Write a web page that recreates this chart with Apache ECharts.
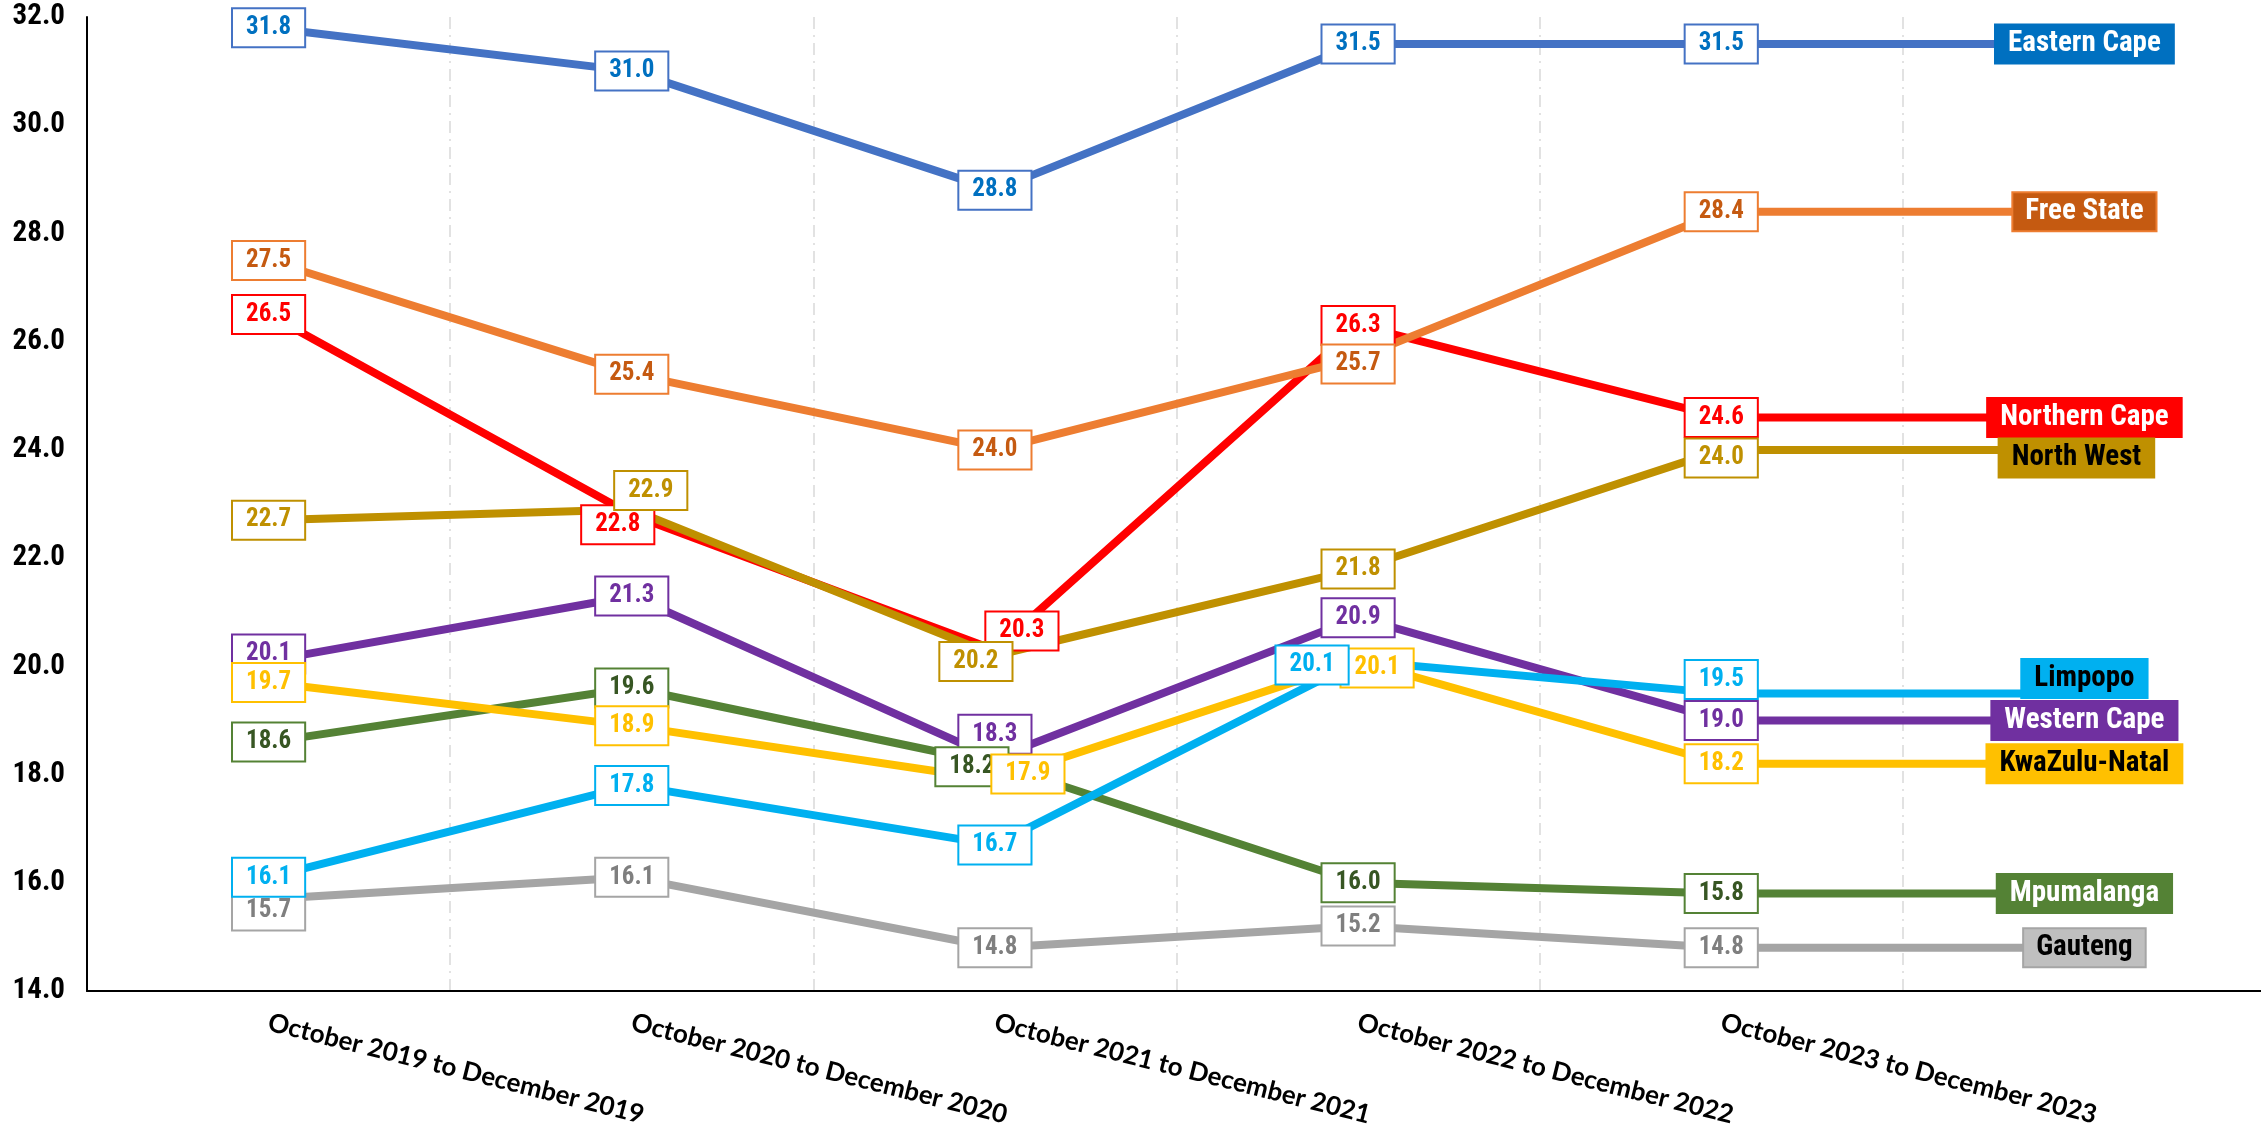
<!DOCTYPE html>
<html>
<head>
<meta charset="utf-8">
<script src="https://cdn.jsdelivr.net/npm/echarts@6/dist/echarts.min.js"></script>
<style>
html,body{margin:0;padding:0;background:#fff;}
#chart{width:2261px;height:1125px;}
</style>
</head>
<body>
<div id="chart"></div>
<script>
// ---------- DATA ----------
const periods = [
  'October 2019 to December 2019',
  'October 2020 to December 2020',
  'October 2021 to December 2021',
  'October 2022 to December 2022',
  'October 2023 to December 2023'
];
const westernCape  = [20.1, 21.3, 18.3, 20.9, 19.0];
const easternCape  = [31.8, 31.0, 28.8, 31.5, 31.5];
const northernCape = [26.5, 22.8, 20.3, 26.3, 24.6];
const freeState    = [27.5, 25.4, 24.0, 25.7, 28.4];
const mpumalanga   = [18.6, 19.6, 18.2, 16.0, 15.8];
const kwaZuluNatal = [19.7, 18.9, 17.9, 20.1, 18.2];
const northWest    = [22.7, 22.9, 20.2, 21.8, 24.0];
const gauteng      = [15.7, 16.1, 14.8, 15.2, 14.8];
const limpopo      = [16.1, 17.8, 16.7, 20.1, 19.5];

// ---------- STYLES ----------
const NARROW = '"Liberation Sans Narrow","Arial Narrow","Roboto Condensed",Lato,sans-serif';
const WIDE = 'Lato,"Open Sans",sans-serif';

const styles = {
  'Western Cape':  {line:'#7030A0', text:'#7030A0', tagBg:'#7030A0', tagText:'#fff', tagBorder:'#7030A0'},
  'Eastern Cape':  {line:'#4472C4', text:'#0070C0', tagBg:'#0070C0', tagText:'#fff', tagBorder:'#0070C0'},
  'Northern Cape': {line:'#FF0000', text:'#FF0000', tagBg:'#FF0000', tagText:'#fff', tagBorder:'#FF0000'},
  'Free State':    {line:'#ED7D31', text:'#C55A11', tagBg:'#C55A11', tagText:'#fff', tagBorder:'#ED7D31'},
  'Mpumalanga':    {line:'#548235', text:'#375623', tagBg:'#548235', tagText:'#fff', tagBorder:'#548235'},
  'KwaZulu-Natal': {line:'#FFC000', text:'#FFC000', tagBg:'#FFC000', tagText:'#000', tagBorder:'#FFC000'},
  'North West':    {line:'#BF9000', text:'#BF9000', tagBg:'#BF9000', tagText:'#000', tagBorder:'#BF9000'},
  'Gauteng':       {line:'#A5A5A5', text:'#7F7F7F', tagBg:'#BFBFBF', tagText:'#000', tagBorder:'#A5A5A5'},
  'Limpopo':       {line:'#00B0F0', text:'#00B0F0', tagBg:'#00B0F0', tagText:'#000', tagBorder:'#00B0F0'}
};
// label nudges in pixels [dx, dy] per point (index 5 = name tag)
const nudges = {
  'Northern Cape': {1:[-14,10], 2:[27,-19]},
  'North West':    {1:[19,-19], 2:[-19,6], 4:[0,8], 5:[-8,8]},
  'Western Cape':  {0:[0,-7], 2:[0,-24]},
  'KwaZulu-Natal': {2:[33,-6], 3:[19,7]},
  'Mpumalanga':    {2:[-23,3]},
  'Limpopo':       {3:[-46,4], 4:[0,-14], 5:[0,-15]},
  'Gauteng':       {0:[0,12]},
  'Free State':    {3:[0,6]}
};

const seriesList = [
  ['Western Cape', westernCape],
  ['Eastern Cape', easternCape],
  ['Northern Cape', northernCape],
  ['Free State', freeState],
  ['Mpumalanga', mpumalanga],
  ['KwaZulu-Natal', kwaZuluNatal],
  ['North West', northWest],
  ['Gauteng', gauteng],
  ['Limpopo', limpopo]
];

const series = seriesList.map(([name, vals]) => {
  const st = styles[name];
  const nd = nudges[name] || {};
  const pts = vals.concat([vals[vals.length - 1]]);
  const data = pts.map((v, i) => {
    const off = nd[i] || [0, 0];
    if (i === pts.length - 1) {
      return {
        value: v,
        label: {
          show: true, position: 'inside', offset: off,
          formatter: name,
          backgroundColor: st.tagBg, borderColor: st.tagBorder, borderWidth: 2,
          color: st.tagText, fontFamily: NARROW, fontWeight: 'bold', fontSize: 29,
          padding: [5, 12, 3, 12]
        }
      };
    }
    return {
      value: v,
      label: {
        show: true, position: 'inside', offset: off,
        formatter: (p) => Number(p.value).toFixed(1),
        backgroundColor: '#fff', borderColor: st.line, borderWidth: 2,
        color: st.text, fontFamily: NARROW, fontWeight: 'bold', fontSize: 25,
        padding: [7, 13, 5, 13]
      }
    };
  });
  return {
    name, type: 'line', data,
    symbol: 'circle', symbolSize: 1, showSymbol: true,
    itemStyle: {color: st.line},
    lineStyle: {color: st.line, width: 8},
    emphasis: {disabled: true},
    silent: true
  };
});

const chart = echarts.init(document.getElementById('chart'));
chart.setOption({
  animation: false,
  backgroundColor: '#fff',
  grid: {left: 87, top: 17, width: 2179, bottom: 134, containLabel: false, outerBoundsMode: 'none'},
  xAxis: {
    type: 'category',
    data: periods.concat(['']),
    boundaryGap: true,
    axisLine: {show: true, lineStyle: {color: '#000', width: 2}},
    axisTick: {show: false},
    splitLine: {show: true, lineStyle: {color: '#D9D9D9', width: 1.5, type: [12, 6, 2, 6]}},
    axisLabel: {
      interval: 0, rotate: -14, margin: 31,
      color: '#000', fontFamily: WIDE, fontWeight: 'bold', fontSize: 26
    }
  },
  yAxis: {
    type: 'value', min: 14, max: 32, interval: 2,
    axisLine: {show: true, lineStyle: {color: '#000', width: 2}},
    axisTick: {show: false},
    splitLine: {show: false},
    axisLabel: {
      margin: 22, color: '#000', fontFamily: NARROW, fontWeight: 'bold', fontSize: 29,
      formatter: (v) => v.toFixed(1)
    }
  },
  series
});
</script>
</body>
</html>
